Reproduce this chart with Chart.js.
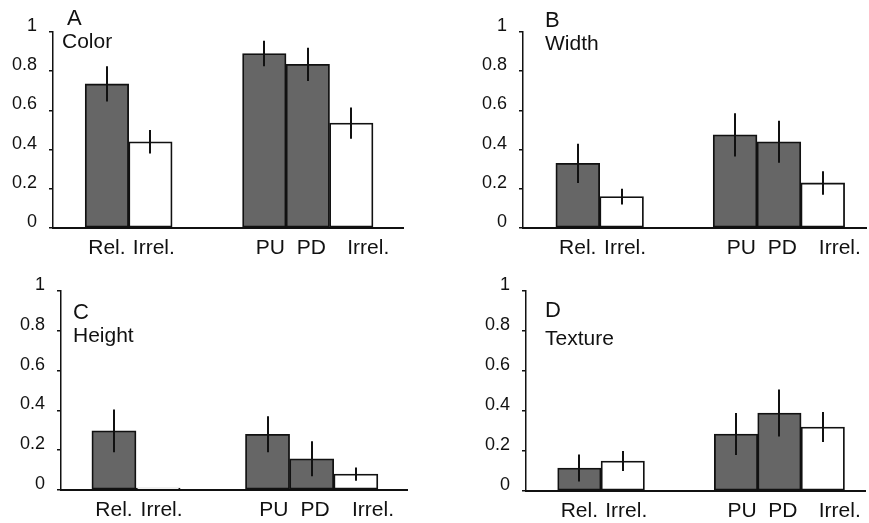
<!DOCTYPE html>
<html>
<head>
<meta charset="utf-8">
<script src="https://cdn.jsdelivr.net/npm/chart.js@4.4.1/dist/chart.umd.min.js"></script>
<style>
  html, body { margin: 0; padding: 0; background: #fff; }
  #wrap { position: relative; width: 869px; height: 523px; }
  #wrap canvas { position: absolute; }
</style>
</head>
<body>
<div id="wrap">
  <canvas id="cA"></canvas>
  <canvas id="cB"></canvas>
  <canvas id="cC"></canvas>
  <canvas id="cD"></canvas>
</div>
<script>
// bar groups: relevant vs irrelevant, then PU / PD / irrelevant
const CATEGORIES = ["Rel.", "Irrel.", "PU", "PD", "Irrel."];
const Y_TICKS = [0, 0.2, 0.4, 0.6, 0.8, 1];

// proportion per condition, with half-length of the error bar
const COLOR_VALUES = [0.735, 0.44, 0.89, 0.835, 0.535];
const COLOR_ERRORS = [0.09, 0.06, 0.065, 0.085, 0.08];

const WIDTH_VALUES = [0.33, 0.16, 0.475, 0.44, 0.23];
const WIDTH_ERRORS = [0.1, 0.04, 0.11, 0.107, 0.06];

const HEIGHT_VALUES = [0.297, 0.01, 0.28, 0.157, 0.08];
const HEIGHT_ERRORS = [0.107, 0, 0.09, 0.088, 0.033];

const TEXTURE_VALUES = [0.115, 0.15, 0.285, 0.39, 0.32];
const TEXTURE_ERRORS = [0.068, 0.05, 0.105, 0.118, 0.075];

const FONT = "'Liberation Sans', Arial, sans-serif";
const DARK = "#666666";

// category labels sit a little right of their bars (in bar widths)
const LABEL_NUDGE = [0, 0.08, 0.14, 0.08, 0.39];

// placement of each panel on the page
const PANELS = [
  { id: "cA", letter: "A", name: "Color", values: COLOR_VALUES, errors: COLOR_ERRORS,
    left: 0, top: 0, w: 435, h: 262, axisX: 53, yTop: 32, yBottom: 228, right: 403,
    lead: 0.74, gap: 1.62, tail: 0.69, letterAt: [67, 25], nameAt: [62, 48] },
  { id: "cB", letter: "B", name: "Width", values: WIDTH_VALUES, errors: WIDTH_ERRORS,
    left: 435, top: 0, w: 434, h: 262, axisX: 88, yTop: 32, yBottom: 228, right: 433,
    lead: 0.75, gap: 1.59, tail: 0.5, letterAt: [110, 27], nameAt: [110, 50] },
  { id: "cC", letter: "C", name: "Height", values: HEIGHT_VALUES, errors: HEIGHT_ERRORS,
    left: 0, top: 262, w: 435, h: 261, axisX: 61, yTop: 29, yBottom: 228, right: 407,
    lead: 0.7, gap: 1.48, tail: 0.66, letterAt: [73, 57], nameAt: [73, 80] },
  { id: "cD", letter: "D", name: "Texture", values: TEXTURE_VALUES, errors: TEXTURE_ERRORS,
    left: 435, top: 262, w: 434, h: 261, axisX: 91, yTop: 29, yBottom: 229, right: 433,
    lead: 0.73, gap: 1.61, tail: 0.48, letterAt: [110, 55], nameAt: [110, 83] },
];

// x position (in bar widths) of each bar: two bars, a gap, three bars
function barPositions(gap) {
  return CATEGORIES.map((_, i) => (i < 2 ? i : i + gap));
}

const errorBars = {
  id: "errorBars",
  afterDatasetsDraw(chart, args, opts) {
    const meta = chart.getDatasetMeta(0);
    const y = chart.scales.y;
    const ctx = chart.ctx;
    ctx.save();
    ctx.strokeStyle = "#111";
    ctx.lineWidth = 2;
    meta.data.forEach((bar, i) => {
      const v = opts.values[i], e = opts.errors[i];
      if (!e) return;
      ctx.beginPath();
      ctx.moveTo(Math.round(bar.x), y.getPixelForValue(v - e));
      ctx.lineTo(Math.round(bar.x), y.getPixelForValue(v + e));
      ctx.stroke();
    });
    ctx.restore();
  },
};

const panelLabel = {
  id: "panelLabel",
  afterDraw(chart, args, opts) {
    const ctx = chart.ctx;
    ctx.save();
    ctx.fillStyle = "#111";
    ctx.textBaseline = "alphabetic";
    ctx.textAlign = "left";
    ctx.font = "22px " + FONT;
    ctx.fillText(opts.letter, opts.letterAt[0], opts.letterAt[1]);
    ctx.font = "21px " + FONT;
    ctx.fillText(opts.name, opts.nameAt[0], opts.nameAt[1]);
    ctx.restore();
  },
};

function makePanel(p) {
  const el = document.getElementById(p.id);
  el.style.left = p.left + "px";
  el.style.top = p.top + "px";
  el.width = p.w;
  el.height = p.h;

  const xs = barPositions(p.gap);
  const labelXs = xs.map((x, i) => x + LABEL_NUDGE[i]);
  const points = xs.map((x, i) => ({ x, y: p.values[i] }));
  const fills = CATEGORIES.map((c) => (c.startsWith("Irrel") ? "#ffffff" : DARK));
  const xMin = -0.5 - p.lead;
  const xMax = xs[xs.length - 1] + 0.5 + p.tail;

  return new Chart(el, {
    type: "bar",
    data: {
      datasets: [{
        data: points,
        backgroundColor: fills,
        borderColor: "#111",
        borderWidth: 1.8,
        borderSkipped: false,
        barPercentage: 1,
        categoryPercentage: 1,
      }],
    },
    options: {
      responsive: false,
      animation: false,
      devicePixelRatio: 1,
      layout: { padding: { left: 0, top: p.yTop, right: p.w - p.right, bottom: 0 } },
      plugins: {
        legend: { display: false },
        tooltip: { enabled: false },
        errorBars: { values: p.values, errors: p.errors },
        panelLabel: { letter: p.letter, name: p.name, letterAt: p.letterAt, nameAt: p.nameAt },
      },
      scales: {
        // bar axis: draws the baseline only
        x: {
          type: "linear",
          offset: false,
          min: xMin,
          max: xMax,
          grid: { display: false, drawTicks: false, offset: false },
          border: { display: true, color: "#111", width: 2 },
          afterBuildTicks: (s) => { s.ticks = xs.map((v) => ({ value: v })); },
          afterFit: (s) => { s.height = 0; },
          ticks: { display: false },
        },
        // label axis on the same range, carrying the category names
        xl: {
          type: "linear",
          position: "bottom",
          offset: false,
          min: xMin,
          max: xMax,
          grid: { display: false, drawTicks: false },
          border: { display: false },
          afterBuildTicks: (s) => { s.ticks = labelXs.map((v) => ({ value: v })); },
          afterFit: (s) => { s.height = p.h - p.yBottom; },
          ticks: {
            autoSkip: false,
            maxRotation: 0,
            padding: 8,
            color: "#111",
            font: { family: FONT, size: 21 },
            callback: (v, i) => CATEGORIES[i],
          },
        },
        y: {
          min: 0,
          max: 1,
          grid: { display: true, drawOnChartArea: false, drawTicks: true, tickLength: 4, color: "#111", lineWidth: 1.5 },
          border: { display: true, color: "#111", width: 1.5 },
          afterBuildTicks: (s) => { s.ticks = Y_TICKS.map((v) => ({ value: v })); },
          afterFit: (s) => { s.width = p.axisX; },
          ticks: {
            padding: 12,
            labelOffset: -6,
            color: "#111",
            font: { family: FONT, size: 18 },
            callback: (v) => String(+v.toFixed(1)),
          },
        },
      },
    },
    plugins: [errorBars, panelLabel],
  });
}

PANELS.forEach(makePanel);
</script>
</body>
</html>
